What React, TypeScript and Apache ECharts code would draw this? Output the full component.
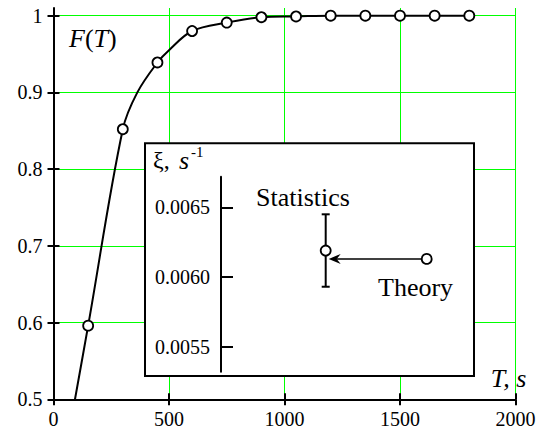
import React, { useEffect, useRef } from 'react';
import * as echarts from 'echarts';

// Main panel: cumulative distribution F(T) versus time T (s)
const timeTicks = [0, 500, 1000, 1500, 2000];
const probTicks = [0.5, 0.6, 0.7, 0.8, 0.9, 1];
const sampleT = [150, 300, 450, 600, 750, 900, 1050, 1200, 1350, 1500, 1650, 1800];
const sampleF = [0.596, 0.852, 0.939, 0.98, 0.991, 0.998, 0.999, 1, 1, 1, 1, 1];
// fitted curve
const fitT = [93, 150, 300, 363, 450, 500, 600, 750, 900, 1050, 1200, 1800];
const fitF = [0.5, 0.596, 0.852, 0.9, 0.939, 0.955, 0.98, 0.991, 0.998, 0.999, 1, 1];

// Inset: rate xi (1/s), statistics estimate with error bar vs theory
const rateTicks = [0.0055, 0.006, 0.0065];
const statPos = 1;
const theoryPos = 2;
const statRate = 0.00619;
const statLow = 0.00593;
const statHigh = 0.00645;
const theoryRate = 0.00613;

const SERIF = 'Liberation Serif';
const INK = '#000';
const GREEN = '#00ff00';

export default function App() {
  const ref = useRef<HTMLDivElement>(null);

  useEffect(() => {
    document.body.style.margin = '0';
    if (!ref.current) return;
    const chart = echarts.init(ref.current, undefined, { renderer: 'svg' });

    const tickLabel = { fontFamily: SERIF, fontSize: 20, color: INK };

    const option: any = {
      animation: false,
      backgroundColor: '#fff',
      grid: [
        { left: 53.5, right: 29.5, top: 8, bottom: 29.7, outerBoundsMode: 'none' },
        { left: 224.7, width: 252.5, top: 176.7, bottom: 57.3, outerBoundsMode: 'none' },
      ],
      xAxis: [
        {
          type: 'value', gridIndex: 0, min: 0, max: 2000, interval: 500,
          axisLine: { show: true, onZero: false, lineStyle: { color: INK, width: 2 } },
          axisTick: { show: true, length: 6, lineStyle: { color: INK, width: 2 } },
          axisLabel: { ...tickLabel, margin: 10, customValues: timeTicks, formatter: (v: number) => String(v) },
          splitLine: { show: true, lineStyle: { color: GREEN, width: 1 } },
        },
        {
          type: 'value', gridIndex: 0, min: 0, max: 2000, interval: 500, position: 'bottom',
          axisLine: { show: false, onZero: false },
          axisTick: { show: true, inside: true, length: 6, lineStyle: { color: INK, width: 2 } },
          axisLabel: { show: false },
          splitLine: { show: false },
        },
        {
          type: 'value', gridIndex: 1, min: 0, max: 2.5, show: false,
        },
      ],
      yAxis: [
        {
          type: 'value', gridIndex: 0, min: 0.5, max: 1.01,
          axisLine: { show: true, onZero: false, lineStyle: { color: INK, width: 2 } },
          axisTick: { show: true, length: 6, customValues: probTicks, lineStyle: { color: INK, width: 2 } },
          axisLabel: {
            ...tickLabel, margin: 11, customValues: probTicks,
            formatter: (v: number) => (Math.abs(v - 1) < 1e-9 ? '1' : v.toFixed(1)),
          },
          splitLine: { show: true, lineStyle: { color: GREEN, width: 1 } },
        },
        {
          type: 'value', gridIndex: 0, min: 0.5, max: 1.01, position: 'left',
          axisLine: { show: false, onZero: false },
          axisTick: { show: true, inside: true, length: 6, customValues: probTicks, lineStyle: { color: INK, width: 2 } },
          axisLabel: { show: false },
          splitLine: { show: false },
        },
        {
          type: 'value', gridIndex: 1, min: 0.00532, max: 0.00672, offset: 3.7, z: 10,
          axisLine: { show: true, onZero: false, lineStyle: { color: INK, width: 2 } },
          axisTick: { show: true, inside: true, length: 12, customValues: rateTicks, lineStyle: { color: INK, width: 2 } },
          axisLabel: {
            ...tickLabel, margin: 11, customValues: rateTicks,
            formatter: (v: number) => v.toFixed(4),
          },
          splitLine: { show: false },
        },
      ],
      graphic: [
        {
          type: 'rect', z: 5,
          shape: { x: 145, y: 143.3, width: 329, height: 232.7 },
          style: { fill: '#fff', stroke: INK, lineWidth: 2 },
        },
        {
          type: 'text', z: 11, x: 69, y: 38,
          style: {
            text: '{i|F}{n|(}{i|T}{n|)}', verticalAlign: 'middle',
            rich: {
              i: { fontFamily: SERIF, fontSize: 26, fontStyle: 'italic', fill: INK },
              n: { fontFamily: SERIF, fontSize: 26, fill: INK },
            },
          },
        },
        {
          type: 'text', z: 11, x: 490.7, y: 378,
          style: { text: 'T, s', font: `italic 26px ${SERIF}`, fill: INK, verticalAlign: 'middle' },
        },
        {
          type: 'text', z: 11, x: 153, y: 160,
          style: { text: 'ξ,', font: `24px ${SERIF}`, fill: INK, verticalAlign: 'middle' },
        },
        {
          type: 'text', z: 11, x: 179, y: 160,
          style: { text: 's', font: `italic 26px ${SERIF}`, fill: INK, verticalAlign: 'middle' },
        },
        {
          type: 'text', z: 11, x: 191, y: 152,
          style: { text: '-1', font: `15px ${SERIF}`, fill: INK, verticalAlign: 'middle' },
        },
        {
          type: 'text', z: 11, x: 256, y: 197,
          style: { text: 'Statistics', font: `26px ${SERIF}`, fill: INK, verticalAlign: 'middle' },
        },
        {
          type: 'text', z: 11, x: 378, y: 287,
          style: { text: 'Theory', font: `26px ${SERIF}`, fill: INK, verticalAlign: 'middle' },
        },
      ],
      series: [
        {
          name: 'fit', type: 'line', xAxisIndex: 0, yAxisIndex: 0,
          data: fitT.map((t, i) => [t, fitF[i]]),
          showSymbol: false, smooth: 0.35,
          lineStyle: { color: INK, width: 2 }, z: 3,
        },
        {
          name: 'samples', type: 'scatter', xAxisIndex: 0, yAxisIndex: 0,
          data: sampleT.map((t, i) => [t, sampleF[i]]),
          symbol: 'circle', symbolSize: 10,
          itemStyle: { color: '#fff', borderColor: INK, borderWidth: 1.8, opacity: 1 },
          z: 4,
        },
        {
          name: 'errorBar', type: 'custom', xAxisIndex: 2, yAxisIndex: 2, z: 10,
          data: [[statPos, statLow, statHigh]],
          renderItem: (params: any, api: any) => {
            const lo = api.coord([api.value(0), api.value(1)]);
            const hi = api.coord([api.value(0), api.value(2)]);
            const cap = 4;
            const st = { stroke: INK, lineWidth: 2 };
            return {
              type: 'group',
              children: [
                { type: 'line', shape: { x1: lo[0], y1: lo[1], x2: hi[0], y2: hi[1] }, style: st },
                { type: 'line', shape: { x1: lo[0] - cap, y1: lo[1], x2: lo[0] + cap, y2: lo[1] }, style: st },
                { type: 'line', shape: { x1: hi[0] - cap, y1: hi[1], x2: hi[0] + cap, y2: hi[1] }, style: st },
              ],
            };
          },
        },
        {
          name: 'arrow', type: 'custom', xAxisIndex: 2, yAxisIndex: 2, z: 10,
          data: [[theoryPos, theoryRate, statPos]],
          renderItem: (params: any, api: any) => {
            const from = api.coord([api.value(0), api.value(1)]);
            const to = api.coord([api.value(2), api.value(1)]);
            const y = from[1];
            const tip = to[0] + 3;
            return {
              type: 'group',
              children: [
                { type: 'line', shape: { x1: from[0] - 5, y1: y, x2: tip + 8, y2: y }, style: { stroke: INK, lineWidth: 1.5 } },
                {
                  type: 'polygon',
                  shape: { points: [[tip, y], [tip + 12, y - 5], [tip + 8, y], [tip + 12, y + 5]] },
                  style: { fill: INK },
                },
              ],
            };
          },
        },
        {
          name: 'rates', type: 'scatter', xAxisIndex: 2, yAxisIndex: 2, z: 11,
          data: [[statPos, statRate], [theoryPos, theoryRate]],
          symbol: 'circle', symbolSize: 10,
          itemStyle: { color: '#fff', borderColor: INK, borderWidth: 1.8, opacity: 1 },
        },
      ],
    };

    chart.setOption(option);
    return () => chart.dispose();
  }, []);

  return <div ref={ref} style={{ width: 545, height: 429 }} />;
}
